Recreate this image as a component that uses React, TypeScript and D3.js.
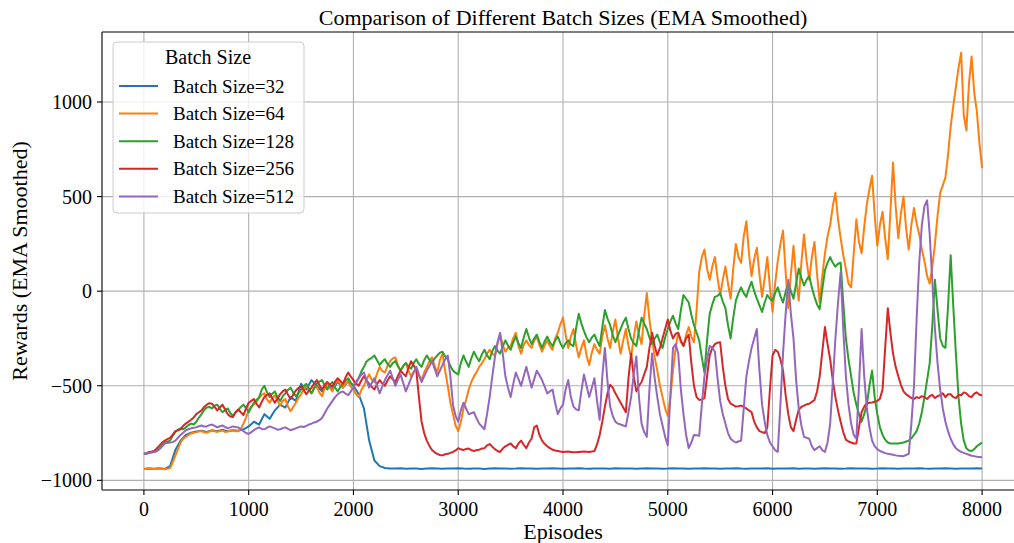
import React from "react";
import * as d3 from "d3";

const WIDTH = 1014;
const HEIGHT = 543;
// plot box (right edge runs past the picture, as in the original)
const PLOT = { left: 102, right: 1024, top: 32, bottom: 490 };
const FONT = "'Liberation Serif', 'Times New Roman', Times, serif";

// the flat blue run is sampled every 50 episodes, the noisy runs every 25
const episodesCoarse = d3.range(0, 8001, 50);
const episodesFine = d3.range(0, 8001, 25);

const batch32 = [
  -940, -937, -939, -936, -940, -925, -840, -790, -760, -748,
  -742, -738, -744, -735, -740, -733, -741, -735, -738, -730,
  -715, -690, -705, -650, -675, -630, -600, -615, -560, -580,
  -490, -520, -470, -500, -530, -495, -520, -480, -510, -475,
  -500, -545, -620, -790, -895, -925, -935,
  -937, -938, -936, -939, -938, -937, -940, -938, -936, -937,
  -939, -938, -937, -936, -938, -939, -937, -938, -940, -937,
  -936, -938, -937, -939, -938, -936, -937, -938, -939, -937,
  -938, -936, -937, -939, -938, -937, -936, -938, -939, -937,
  -938, -937, -939, -936, -938, -937, -938, -939, -937, -936,
  -938, -937, -939, -938, -936, -937, -938, -939, -937, -938,
  -936, -938, -937, -939, -938, -937, -936, -938, -939, -937,
  -938, -937, -936, -939, -938, -937, -938, -936, -939, -937,
  -938, -939, -937, -936, -938, -937, -939, -938, -936, -937,
  -938, -937, -939, -938, -936, -937, -938, -939, -937, -938,
  -937, -936, -938, -939, -937, -938, -936, -937, -939, -938,
  -937, -938, -936, -938,
];

const batch64 = [
  -940, -938, -936, -939, -940, -937, -938, -940, -941, -938, -935, -905, -870, -835, -800, -780, -770, -760, -752, -748,
  -745, -741, -740, -746, -748, -742, -738, -741, -744, -739, -736, -744, -742, -737, -735, -741, -740, -728, -700, -668,
  -630, -612, -600, -585, -565, -548, -540, -572, -590, -566, -550, -578, -605, -580, -570, -610, -635, -612, -590, -565,
  -545, -520, -500, -525, -540, -512, -505, -536, -555, -515, -495, -512, -530, -490, -470, -495, -510, -488, -480, -505,
  -520, -545, -560, -522, -500, -465, -440, -468, -480, -436, -400, -422, -430, -395, -370, -355, -350, -392, -420, -396,
  -380, -420, -450, -425, -410, -445, -470, -430, -400, -372, -350, -395, -430, -365, -330, -420, -500, -590, -650, -710,
  -740, -690, -620, -575, -520, -480, -450, -428, -400, -382, -360, -330, -310, -330, -340, -280, -230, -285, -320, -300,
  -290, -248, -220, -290, -330, -285, -260, -285, -300, -262, -240, -285, -320, -288, -260, -290, -310, -250, -220, -175,
  -140, -230, -300, -240, -200, -285, -350, -300, -260, -340, -390, -325, -280, -310, -330, -240, -180, -250, -300, -215,
  -150, -250, -330, -260, -200, -290, -350, -245, -160, -230, -280, -130, -10, -150, -250, -350, -420, -500, -560, -620,
  -660, -560, -420, -300, -220, -270, -290, -230, -190, -240, -270, -100, 100, 180, 220, 120, 60, 130, 180, 70,
  -20, 60, 130, 40, -40, 120, 250, 180, 150, 290, 370, 200, 80, 170, 230, 90, -30, 70, 180, 20,
  -110, 40, 160, 250, 320, 100, -90, 90, 240, 70, -50, 150, 300, 160, 60, 180, 260, 90, -60, 80,
  200, 290, 350, 450, 520, 380, 280, 190, 120, 40, 20, 200, 380, 260, 200, 340, 460, 540, 610, 400,
  240, 350, 420, 280, 170, 420, 680, 450, 280, 410, 500, 330, 220, 350, 440, 360, 300, 220, 160, 80,
  40, 130, 250, 400, 520, 560, 600, 720, 870, 980, 1080, 1180, 1260, 930, 850, 1100, 1240, 1050, 950, 780,
  650,
];

const batch128 = [
  -858, -860, -855, -852, -850, -842, -830, -815, -800, -796, -790, -765, -745, -732, -725, -730, -720, -708, -700, -705,
  -690, -668, -650, -628, -615, -612, -620, -605, -600, -622, -640, -628, -620, -645, -660, -640, -630, -612, -600, -618,
  -640, -612, -590, -575, -560, -520, -500, -535, -560, -542, -530, -560, -580, -555, -540, -522, -510, -536, -555, -540,
  -520, -502, -490, -515, -540, -512, -490, -478, -470, -498, -520, -495, -480, -510, -530, -505, -490, -472, -460, -485,
  -500, -485, -460, -425, -400, -372, -360, -352, -340, -365, -390, -372, -360, -385, -400, -380, -370, -398, -420, -395,
  -380, -398, -410, -380, -360, -385, -400, -365, -340, -362, -380, -355, -340, -325, -320, -345, -360, -395, -420, -432,
  -440, -380, -340, -372, -400, -355, -320, -348, -370, -335, -310, -338, -360, -318, -290, -315, -330, -292, -260, -288,
  -310, -270, -240, -275, -300, -245, -200, -245, -280, -250, -230, -268, -300, -265, -240, -270, -290, -262, -240, -275,
  -300, -275, -260, -282, -290, -195, -120, -170, -210, -245, -270, -245, -230, -262, -290, -190, -100, -145, -180, -232,
  -270, -232, -200, -165, -140, -200, -250, -275, -290, -210, -140, -172, -200, -245, -280, -250, -230, -270, -300, -245,
  -200, -160, -130, -170, -200, -100, -20, -40, -60, -125, -180, -220, -260, -350, -430, -260, -120, -70, -30, -25,
  -10, -55, -90, -180, -250, -140, -50, -10, 20, -10, -30, 15, 50, 0, -40, -75, -110, -60, -20, -40,
  -50, -10, 20, -25, -60, -5, 40, 0, -40, 40, 120, 70, 30, 60, 80, 20, -30, -70, -95, 10,
  110, 150, 180, 150, 130, 145, 150, -60, -250, -360, -450, -540, -600, -650, -690, -650, -600, -500, -420, -560,
  -650, -720, -760, -785, -800, -805, -805, -805, -805, -802, -800, -795, -790, -778, -760, -740, -700, -640, -560, -470,
  -380, -180, 60, -100, -250, -290, -300, -80, 190, -80, -330, -560, -700, -790, -830, -842, -845, -835, -820, -810,
  -800,
];

const batch256 = [
  -860, -856, -850, -848, -845, -830, -815, -800, -790, -782, -775, -758, -740, -735, -730, -712, -700, -690, -680, -668,
  -650, -640, -630, -612, -600, -592, -595, -612, -630, -615, -600, -625, -650, -662, -665, -640, -625, -640, -655, -620,
  -590, -580, -570, -595, -615, -585, -560, -548, -540, -566, -590, -568, -545, -530, -520, -548, -570, -546, -525, -512,
  -500, -522, -545, -526, -510, -488, -470, -496, -520, -498, -480, -495, -505, -478, -460, -475, -490, -455, -430, -452,
  -470, -488, -500, -472, -450, -472, -490, -506, -520, -492, -470, -488, -500, -472, -450, -466, -480, -448, -420, -436,
  -450, -405, -370, -392, -420, -560, -690, -750, -790, -818, -840, -852, -860, -866, -868, -862, -860, -855, -850, -842,
  -830, -836, -840, -834, -832, -840, -845, -840, -838, -832, -830, -815, -808, -822, -835, -845, -850, -832, -820, -812,
  -805, -820, -830, -805, -790, -812, -830, -800, -780, -720, -710, -760, -790, -808, -820, -830, -838, -842, -845, -848,
  -850, -849, -848, -850, -852, -851, -850, -849, -848, -849, -850, -848, -845, -810, -760, -690, -610, -540, -495, -510,
  -540, -565, -590, -615, -640, -460, -330, -450, -530, -500, -480, -440, -400, -300, -220, -290, -340, -300, -250, -200,
  -150, -210, -250, -225, -220, -260, -290, -250, -230, -380, -500, -560, -575, -572, -565, -450, -340, -300, -280, -272,
  -270, -400, -500, -570, -595, -602, -610, -608, -605, -612, -620, -630, -640, -690, -720, -740, -745, -750, -720, -520,
  -340, -310, -320, -360, -420, -550, -650, -720, -740, -680, -625, -612, -605, -598, -595, -585, -575, -530, -450, -320,
  -190, -280, -360, -470, -560, -630, -690, -745, -785, -795, -800, -805, -805, -720, -640, -610, -592, -590, -588, -585,
  -580, -568, -520, -300, -90, -220, -330, -400, -450, -495, -530, -545, -555, -565, -570, -560, -565, -555, -560, -570,
  -555, -548, -565, -555, -550, -540, -560, -545, -545, -560, -565, -548, -550, -535, -540, -555, -560, -542, -535, -548,
  -550,
];

const batch512 = [
  -860, -858, -855, -852, -850, -845, -835, -820, -805, -802, -800, -798, -790, -775, -760, -748, -735, -730, -725, -722,
  -720, -714, -710, -716, -715, -708, -705, -712, -720, -714, -710, -718, -725, -720, -715, -718, -720, -730, -740, -750,
  -755, -745, -735, -726, -720, -728, -730, -722, -715, -720, -725, -732, -730, -724, -720, -728, -735, -730, -725, -720,
  -715, -718, -712, -705, -700, -694, -690, -682, -670, -645, -620, -600, -580, -560, -545, -535, -530, -542, -550, -530,
  -510, -480, -460, -442, -430, -470, -510, -485, -460, -500, -540, -505, -470, -445, -420, -460, -500, -468, -440, -485,
  -530, -495, -460, -430, -400, -442, -480, -450, -420, -395, -370, -410, -450, -420, -390, -360, -340, -450, -600, -660,
  -690, -630, -590, -620, -650, -645, -640, -672, -700, -715, -730, -650, -560, -450, -350, -270, -220, -330, -450, -510,
  -560, -490, -430, -465, -500, -450, -400, -455, -510, -465, -420, -445, -470, -505, -540, -530, -520, -590, -650, -620,
  -600, -520, -470, -560, -610, -625, -630, -530, -440, -500, -560, -510, -460, -580, -680, -450, -300, -480, -610, -660,
  -690, -700, -705, -710, -715, -640, -560, -440, -345, -560, -700, -745, -770, -520, -330, -460, -560, -650, -710, -770,
  -815, -550, -300, -280, -330, -520, -650, -760, -830, -800, -760, -762, -765, -600, -450, -360, -290, -300, -320, -460,
  -580, -650, -700, -750, -780, -792, -800, -795, -790, -620, -450, -370, -300, -250, -200, -420, -600, -690, -760, -800,
  -820, -840, -850, -600, -330, -120, 60, -120, -250, -470, -620, -710, -770, -775, -780, -820, -840, -830, -820, -840,
  -850, -800, -700, -480, -250, -60, 100, -200, -450, -600, -700, -760, -780, -500, -200, -450, -620, -720, -790, -820,
  -835, -845, -850, -856, -860, -862, -865, -868, -870, -871, -872, -866, -860, -700, -500, -150, 150, 350, 450, 480,
  300, 50, -200, -380, -520, -620, -690, -740, -780, -810, -830, -842, -850, -855, -860, -865, -870, -872, -875, -876,
  -878,
];

const seriesLabels = ["Batch Size=32", "Batch Size=64", "Batch Size=128", "Batch Size=256", "Batch Size=512"];
const seriesColors = ["#1f77b4", "#ff7f0e", "#2ca02c", "#d62728", "#9467bd"];
const seriesValues = [batch32, batch64, batch128, batch256, batch512];
const seriesEpisodes = [episodesCoarse, episodesFine, episodesFine, episodesFine, episodesFine];

const xTicks = [0, 1000, 2000, 3000, 4000, 5000, 6000, 7000, 8000];
const yTicks = [-1000, -500, 0, 500, 1000];

const fmt = (v: number) => (v < 0 ? "\u2212" + Math.abs(v) : String(v));

const App = () => {
  // matplotlib-style 5% margins around the data
  const allValues = seriesValues.flat();
  const [yMin, yMax] = d3.extent(allValues) as [number, number];
  const yPad = (yMax - yMin) * 0.05;
  const [xMin, xMax] = d3.extent(episodesFine) as [number, number];
  const xPad = (xMax - xMin) * 0.05;

  const xScale = d3.scaleLinear().domain([xMin - xPad, xMax + xPad]).range([PLOT.left, PLOT.right]);
  const yScale = d3.scaleLinear().domain([yMin - yPad, yMax + yPad]).range([PLOT.bottom, PLOT.top]);

  const lineFor = (eps: number[]) =>
    d3
      .line<number>()
      .x((_, i) => xScale(eps[i]))
      .y((d) => yScale(d));

  const legendX = 113;
  const legendY = 42;
  const rowGap = 27.6;

  return (
    <svg
      width={WIDTH}
      height={HEIGHT}
      style={{ position: "absolute", left: 0, top: 0, background: "#fff" }}
      fontFamily={FONT}
    >
      <defs>
        <clipPath id="plot-clip">
          <rect x={PLOT.left} y={PLOT.top} width={PLOT.right - PLOT.left} height={PLOT.bottom - PLOT.top} />
        </clipPath>
      </defs>

      {/* grid */}
      <g stroke="#b0b0b0" strokeWidth={1.1}>
        {xTicks.map((t) => (
          <line key={"gx" + t} x1={xScale(t)} x2={xScale(t)} y1={PLOT.top} y2={PLOT.bottom} />
        ))}
        {yTicks.map((t) => (
          <line key={"gy" + t} x1={PLOT.left} x2={PLOT.right} y1={yScale(t)} y2={yScale(t)} />
        ))}
      </g>

      {/* lines */}
      <g clipPath="url(#plot-clip)" fill="none" strokeWidth={2} strokeLinejoin="round">
        {seriesValues.map((vals, i) => (
          <path key={seriesLabels[i]} d={lineFor(seriesEpisodes[i])(vals) || ""} stroke={seriesColors[i]} />
        ))}
      </g>

      {/* spines */}
      <g stroke="#000" strokeWidth={1.1} fill="none">
        <line x1={PLOT.left} x2={PLOT.left} y1={PLOT.top} y2={PLOT.bottom} />
        <line x1={PLOT.left} x2={PLOT.right} y1={PLOT.bottom} y2={PLOT.bottom} />
        <line x1={PLOT.left} x2={PLOT.right} y1={PLOT.top} y2={PLOT.top} />
        <line x1={PLOT.right} x2={PLOT.right} y1={PLOT.top} y2={PLOT.bottom} />
      </g>

      {/* x axis */}
      <g fontSize={20} fill="#000" textAnchor="middle">
        {xTicks.map((t) => (
          <g key={"xt" + t}>
            <line x1={xScale(t)} x2={xScale(t)} y1={PLOT.bottom} y2={PLOT.bottom + 5} stroke="#000" strokeWidth={1.1} />
            <text x={xScale(t)} y={PLOT.bottom + 26}>{t}</text>
          </g>
        ))}
      </g>

      {/* y axis */}
      <g fontSize={20} fill="#000" textAnchor="end">
        {yTicks.map((t) => (
          <g key={"yt" + t}>
            <line x1={PLOT.left - 5} x2={PLOT.left} y1={yScale(t)} y2={yScale(t)} stroke="#000" strokeWidth={1.1} />
            <text x={PLOT.left - 10} y={yScale(t)} dy="0.35em">{fmt(t)}</text>
          </g>
        ))}
      </g>

      {/* labels */}
      <text x={(PLOT.left + PLOT.right) / 2} y={25} textAnchor="middle" fontSize={22}>
        Comparison of Different Batch Sizes (EMA Smoothed)
      </text>
      <text x={(PLOT.left + PLOT.right) / 2} y={539} textAnchor="middle" fontSize={22}>
        Episodes
      </text>
      <text
        transform={`translate(27, ${(PLOT.top + PLOT.bottom) / 2}) rotate(-90)`}
        textAnchor="middle"
        fontSize={22}
      >
        Rewards (EMA Smoothed)
      </text>

      {/* legend */}
      <g>
        <rect
          x={legendX}
          y={legendY}
          width={191}
          height={171}
          rx={4}
          fill="#fff"
          fillOpacity={0.8}
          stroke="#cccccc"
          strokeWidth={1}
        />
        <text x={208} y={64} textAnchor="middle" fontSize={20}>
          Batch Size
        </text>
        {seriesLabels.map((label, i) => {
          const y = 86 + i * rowGap;
          return (
            <g key={"lg" + label}>
              <line x1={119} x2={158} y1={y} y2={y} stroke={seriesColors[i]} strokeWidth={2} />
              <text x={173} y={y} dy="0.35em" fontSize={19}>
                {label}
              </text>
            </g>
          );
        })}
      </g>
    </svg>
  );
};

export default App;
